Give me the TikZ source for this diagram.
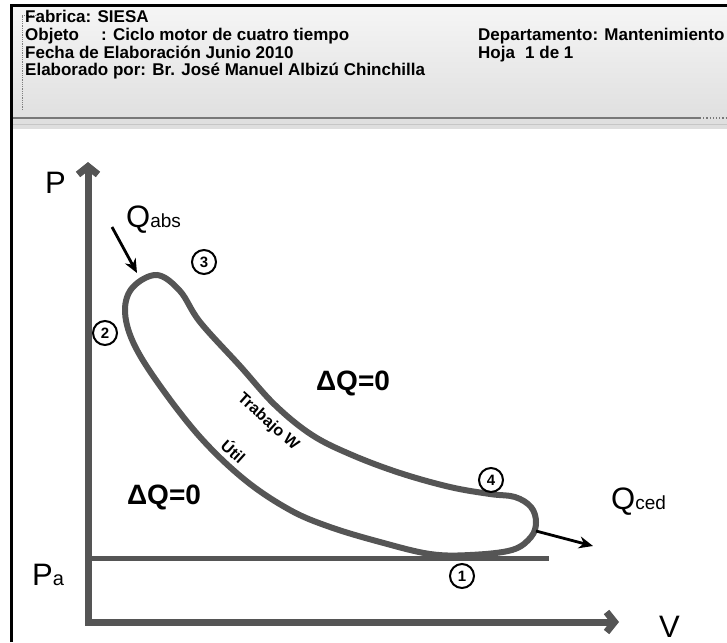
\documentclass[tikz,border=0pt]{standalone}
\usepackage{fontspec}
\setmainfont{Liberation Sans}
\usetikzlibrary{arrows.meta}
\definecolor{linegray}{RGB}{85,85,85}
\definecolor{rulegray}{RGB}{120,120,120}

\begin{document}
\begin{tikzpicture}[
    x=1pt, y=-1pt,
    head/.style={anchor=base west, inner sep=0pt, font=\fontsize{17}{19}\selectfont\bfseries},
    axis/.style={line width=7pt, draw=linegray, line join=miter},
    cyc/.style={line width=6pt, draw=linegray},
    paline/.style={line width=5pt, draw=linegray},
    num/.style={circle, draw, line width=2pt, minimum size=24pt, inner sep=0pt,
        font=\fontsize{15}{15}\selectfont\bfseries},
    heat/.style={-{Stealth[length=14pt, width=12pt]}, line width=2.8pt},
    big/.style={anchor=base west, inner sep=0pt, font=\fontsize{31}{31}\selectfont},
    zero/.style={font=\fontsize{28}{28}\selectfont\bfseries},
    work/.style={rotate=-42, inner sep=0pt, font=\fontsize{16}{16}\selectfont\bfseries}
]
\useasboundingbox (0,0) rectangle (727,642);
\shade[top color=gray!8, bottom color=gray!26] (13,8) rectangle (727,128);
\draw[line width=3pt] (11.5,642) -- (11.5,5.5) -- (727,5.5);
\draw[rulegray, line width=1.2pt] (13,118) -- (700,118);
\draw[rulegray, dotted, line width=1.2pt] (700,118) -- (727,118);
\draw[gray!45, line width=1pt] (13,124.5) -- (727,124.5);
\draw[gray, densely dotted, line width=0.8pt] (22,110) -- (22,15) -- (36,15);

\node[head] (fab) at (25,23) {Fabrica: SIESA};
\node[head] (obj) at (25,40.5) {Objeto\hspace{1.3em}: Ciclo motor de cuatro tiempo};
\node[head] (fec) at (25,58) {Fecha de Elaboración Junio 2010};
\node[head] (ela) at (25,75.5) {Elaborado por: Br. José Manuel Albizú Chinchilla};
\node[head] (dep) at (478,40.5) {Departamento: Mantenimiento};
\node[head] (hoja) at (478,58) {Hoja\hspace{0.6em}1 de 1};

\coordinate (ytip) at (88,162);
\coordinate (xtip) at (619,622);
\coordinate (pa0) at (88,558);
\coordinate (pa1) at (549,558);
\draw[axis, {Straight Barb[length=8pt, width=20pt]}-{Straight Barb[length=8pt, width=20pt]}] (ytip) |- (xtip);
\draw[paline] (pa0) -- (pa1);

\draw[cyc] plot[smooth cycle, tension=0.6] coordinates {
    (157,275) (180,291) (200,322) (240,366) (275,405) (312,435) (352,455)
    (400,473) (450,487) (490,494) (515,497) (531,507) (536,522) (531,537)
    (512,550) (470,555) (430,554) (380,542) (330,527) (290,510) (245,480)
    (200,437) (158,383) (133,342) (125,310) (133,287)};

\node[big] (plab) at (45,193) {P};
\node[big] (palab) at (32,585) {P{\fontsize{20}{20}\selectfont a}};
\node[big] (vlab) at (659,637) {V};
\node[big] (qabs) at (126,227) {Q{\fontsize{19}{19}\selectfont abs}};
\node[big] (qced) at (611,509) {Q{\fontsize{19}{19}\selectfont ced}};

\coordinate (qa0) at (112,227);
\coordinate (qa1) at (137,273);
\coordinate (qc0) at (536,531);
\coordinate (qc1) at (593,546);
\draw[heat] (qa0) -- (qa1);
\draw[heat] (qc0) -- (qc1);

\node[num] (c1) at (462,576) {1};
\node[num] (c2) at (105,333) {2};
\node[num] (c3) at (204,262) {3};
\node[num] (c4) at (491,480) {4};

\node[zero] (dq1) at (353,383) {ΔQ=0};
\node[zero] (dq2) at (164,497) {ΔQ=0};
\node[work] (trab) at (268,422) {Trabajo W};
\node[work] (util) at (234,451) {Útil};
\end{tikzpicture}
\end{document}
